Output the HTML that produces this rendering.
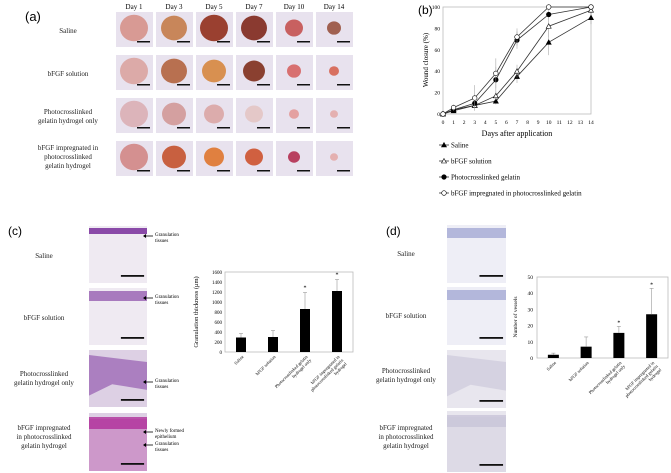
<!DOCTYPE html>
<html><head><meta charset="utf-8"><style>
body{margin:0;background:#fff;width:671px;height:473px;overflow:hidden}
svg{display:block;font-family:"Liberation Serif",serif}
</style></head><body>
<svg id="s" width="671" height="473" viewBox="0 0 671 473">
<g id="pa"></g>
<g id="pb"></g>
<g id="pc"></g>
<g id="pd"></g>
</svg>
<script>
// Panel b data
const days=[0,1,3,5,7,10,14];
const saline=[0,3,8,12,35,67,90];
const bfgfSol=[0,4,8,17,40,82,97];
const photoGel=[0,4,10,32,69,93,100];
const bfgfGel=[0,6,15,38,72,100,100];
const salineErr=[0,2,3,3,6,12,6];
const bfgfSolErr=[0,2,3,4,6,10,3];
const photoGelErr=[0,2,4,12,8,4,0];
const bfgfGelErr=[0,3,12,14,8,0,0];
const xTicksB=[0,1,2,3,4,5,6,7,8,9,10,11,12,13,14];
const yTicksB=[0,20,40,60,80,100];
// Panel c data
const catsC=["Saline","bFGF solution","Photocrosslinked gelatin hydrogel only","bFGF impregnated in photocrosslinked gelatin hydrogel"];
const valsC=[290,300,860,1220];
const errC=[80,130,330,230];
const yTicksC=[0,200,400,600,800,1000,1200,1400,1600];
// Panel d data
const valsD=[2,7,15.5,27];
const errD=[1,6,4,16];
const yTicksD=[0,10,20,30,40,50];

const NS="http://www.w3.org/2000/svg";
function el(p,t,a,txt){const e=document.createElementNS(NS,t);for(const k in a)e.setAttribute(k,a[k]);if(txt!=null)e.textContent=txt;p.appendChild(e);return e;}
function label(p,x,y,lines,size,anchor){lines.forEach((l,i)=>{const t=el(p,'text',{x:x,y:y+i*(size+2),'font-size':size,'text-anchor':anchor||'middle',fill:'#222'},l);});}

// Panel a
const pa=document.getElementById('pa');
let t=el(pa,'text',{x:25,y:21,'font-size':13,'font-family':'Liberation Sans, sans-serif'},'(a)');

const dayLabs=["Day 1","Day 3","Day 5","Day 7","Day 10","Day 14"];
const colX=[116,156,196,236,276,316];
const rowY=[12,55,98,141];
const rowLabs=[["Saline"],["bFGF solution"],["Photocrosslinked","gelatin hydrogel only"],["bFGF impregnated in","photocrosslinked","gelatin hydrogel"]];
const rowLy=[33,76,114,150];
rowLabs.forEach((l,i)=>label(pa,68,rowLy[i],l,7));
const woundCol=[["#d89a94","#c8865a","#9a4030","#8a3a30","#c86060","#a06050"],["#dcaaa8","#b87050","#d89050","#8a4030","#d87070","#d87060"],["#dcb4ba","#d4a0a0","#dcacac","#e4c8c8","#e4a0a0","#e4b0b0"],["#d49090","#c86040","#e08040","#d06040","#b84060","#e4b0b0"]];
const wSize=[[14,13,14,13,9,7],[14,13,12,11,7,5],[14,12,10,9,5,4],[14,12,10,9,6,4]];
dayLabs.forEach((d,j)=>{const tt=el(pa,'text',{x:colX[j]+18,y:9,'font-size':7,'text-anchor':'middle'},d);});
rowY.forEach((y,i)=>colX.forEach((x,j)=>{
 const g=el(pa,'g',{});
 el(g,'rect',{x:x,y:y,width:37,height:35,fill:'#e8e2ee'});
 el(g,'ellipse',{cx:x+18,cy:y+16,rx:wSize[i][j],ry:wSize[i][j]*0.95,fill:woundCol[i][j]});
 el(g,'rect',{x:x+21,y:y+29,width:13,height:1.5,fill:'#111'});
}));

// Panel b
const pb=document.getElementById('pb');
t=el(pb,'text',{x:418,y:14,'font-size':12,'font-family':'Liberation Sans, sans-serif'},'(b)');

const bx0=443,bx1=591,by0=114,by1=7;
const xb=v=>bx0+(bx1-bx0)*v/14, yb=v=>by0-(by0-by1)*v/100;
el(pb,'rect',{x:bx0,y:by1,width:bx1-bx0,height:by0-by1,fill:'none',stroke:'#bbb','stroke-width':0.8});
yTicksB.forEach(v=>{const tt=el(pb,'text',{x:bx0-3,y:yb(v)+2,'font-size':5.5,'text-anchor':'end'},v);});
xTicksB.forEach(v=>{const tt=el(pb,'text',{x:xb(v),y:124,'font-size':5.5,'text-anchor':'middle'},v);});
t=el(pb,'text',{x:517,y:136,'font-size':8,'text-anchor':'middle'},'Days after application');
t=el(pb,'text',{x:0,y:0,'font-size':7,'text-anchor':'middle',transform:'translate(428,60) rotate(-90)'},'Wound closure (%)');
const series=[[saline,salineErr,'tri','#000'],[bfgfSol,bfgfSolErr,'tri','#fff'],[photoGel,photoGelErr,'circ','#000'],[bfgfGel,bfgfGelErr,'circ','#fff']];
const names=['Saline','bFGF solution','Photocrosslinked gelatin','bFGF impregnated in photocrosslinked gelatin'];
function marker(g,x,y,type,fill){if(type==='tri')el(g,'path',{d:`M${x},${y-2.5}L${x+2.5},${y+2}L${x-2.5},${y+2}Z`,fill:fill,stroke:'#000','stroke-width':0.6});else el(g,'circle',{cx:x,cy:y,r:2.3,fill:fill,stroke:'#000','stroke-width':0.6});}
series.forEach((s,k)=>{
 const g=el(pb,'g',{});
 s[0].forEach((v,i)=>{if(s[1][i])el(g,'line',{x1:xb(days[i]),x2:xb(days[i]),y1:yb(v-s[1][i]),y2:yb(Math.min(100,v+s[1][i])),stroke:'#999','stroke-width':0.5});});
 el(g,'polyline',{points:s[0].map((v,i)=>xb(days[i])+','+yb(v)).join(' '),fill:'none',stroke:'#333','stroke-width':0.8});
 s[0].forEach((v,i)=>marker(g,xb(days[i]),yb(v),s[2],s[3]));
 const ly=145+k*16;
 const lg=el(pb,'g',{});
 el(lg,'line',{x1:439,x2:449,y1:ly,y2:ly,stroke:'#333','stroke-width':0.8});
 marker(lg,444,ly,s[2],s[3]);
 el(lg,'text',{x:451,y:ly+2.5,'font-size':7},names[k]);
});

// histology images
function histo(p,x,y,w,h,base,dark,k){
 const g=el(p,'g',{});
 el(g,'rect',{x:x,y:y,width:w,height:h,fill:base});
 if(k===0)el(g,'rect',{x:x,y:y+2,width:w,height:6,fill:dark});
 if(k===1)el(g,'rect',{x:x,y:y+3,width:w,height:10,fill:dark,opacity:0.7});
 if(k===2)el(g,'path',{d:`M${x},${y+5}L${x+w},${y+12}L${x+w},${y+h*0.7}L${x+w*0.4},${y+h*0.6}L${x},${y+h*0.8}Z`,fill:dark,opacity:0.6});
 if(k===3){el(g,'rect',{x:x,y:y+6,width:w,height:h-6,fill:dark,opacity:0.35});el(g,'rect',{x:x,y:y+4,width:w,height:12,fill:dark,opacity:0.8});}
 el(g,'rect',{x:x+w*0.55,y:y+h-8,width:w*0.4,height:1.8,fill:'#111'});
}
// Panel c
const pc=document.getElementById('pc');
t=el(pc,'text',{x:8,y:235,'font-size':12,'font-family':'Liberation Sans, sans-serif'},'(c)');
const cRows=[226,288,350,413];
const cLy=[[258],[320],[376,387],[430,441,452]];
const cL=[["Saline"],["bFGF solution"],["Photocrosslinked","gelatin hydrogel only"],["bFGF impregnated","in photocrosslinked","gelatin hydrogel"]];
cRows.forEach((y,k)=>{histo(pc,89,y,58,k===3?58:57,k<2?'#efeaf2':'#ddd0e4',k===3?'#b0309a':'#8a4aa8',k);label(pc,44,cLy[k][0],cL[k],7);});
const arrowsC=[[236,["Granulation","tissues"]],[298,["Granulation","tissues"]],[382,["Granulation","tissues"]],[432,["Newly formed","epithelium"]],[445,["Granulation","tissues"]]];
arrowsC.forEach(a=>{const g=el(pc,'g',{});
 el(g,'line',{x1:153,y1:a[0],x2:145,y2:a[0],stroke:'#000','stroke-width':0.8});el(g,'path',{d:`M143,${a[0]}l3,-2v4z`});
 a[1].forEach((s,i)=>el(g,'text',{x:155,y:a[0]+i*6,'font-size':5},s));});
const cx0=225,cx1=353,cy0=352,cy1=272;
const yc=v=>cy0-(cy0-cy1)*v/1600;
el(pc,'rect',{x:cx0,y:cy1,width:cx1-cx0,height:cy0-cy1,fill:'none',stroke:'#bbb','stroke-width':0.8});
yTicksC.forEach(v=>{const tt=el(pc,'text',{x:cx0-3,y:yc(v)+2,'font-size':5,'text-anchor':'end'},v);});
t=el(pc,'text',{x:0,y:0,'font-size':6.5,'text-anchor':'middle',transform:'translate(198,312) rotate(-90)'},'Granulation thickness (μm)');
const cSlot=(cx1-cx0)/4;
const cLabs=[["Saline"],["bFGF solution"],["Photocrosslinked gelatin","hydrogel only"],["bFGF impregnated in","photocrosslinked gelatin","hydrogel"]];
valsC.forEach((v,i)=>{const x=cx0+cSlot*(i+0.5);
 const b=el(pc,'rect',{x:x-5,y:yc(v),width:10,height:yc(0)-yc(v),fill:'#000'});
 el(pc,'line',{x1:x,x2:x,y1:yc(v),y2:yc(v+errC[i]),stroke:'#999','stroke-width':0.6});el(pc,'line',{x1:x-2,x2:x+2,y1:yc(v+errC[i]),y2:yc(v+errC[i]),stroke:'#999','stroke-width':0.6});
 if(i>=2)el(pc,'text',{x:x,y:yc(v+errC[i])-3,'font-size':6,'text-anchor':'middle'},'*');
 const g=el(pc,'g',{transform:`translate(${x+3},${cy0+5}) rotate(-45)`});
 cLabs[i].forEach((s,j)=>el(g,'text',{x:0,y:j*5,'font-size':4.5,'text-anchor':'end'},s));});

// Panel d
const pd=document.getElementById('pd');
t=el(pd,'text',{x:386,y:235,'font-size':12,'font-family':'Liberation Sans, sans-serif'},'(d)');
const dRows=[225,287,350,411];
const dLy=[[256],[318],[373,384],[430,441,452]];
const dL=[["Saline"],["bFGF solution"],["Photocrosslinked","gelatin hydrogel only"],["bFGF impregnated","in photocrosslinked","gelatin hydrogel"]];
dRows.forEach((y,k)=>{histo(pd,447,y,59,k===3?61:58,k<2?'#eeeef6':'#e8e6ee',k<2?'#9aa0d0':'#c8c4d8',k===3?3:(k===2?2:1));label(pd,406,dLy[k][0],dL[k],7);});
const dx0=537,dx1=668,dy0=358,dy1=277;
const yd=v=>dy0-(dy0-dy1)*v/50;
el(pd,'rect',{x:dx0,y:dy1,width:dx1-dx0,height:dy0-dy1,fill:'none',stroke:'#bbb','stroke-width':0.8});
yTicksD.forEach(v=>{const tt=el(pd,'text',{x:dx0-4,y:yd(v)+2,'font-size':5.5,'text-anchor':'end'},v);});
t=el(pd,'text',{x:0,y:0,'font-size':5.5,'text-anchor':'middle',transform:'translate(517,317) rotate(-90)'},'Number of vessels');
const dSlot=(dx1-dx0)/4;
valsD.forEach((v,i)=>{const x=dx0+dSlot*(i+0.5);
 const b=el(pd,'rect',{x:x-5.5,y:yd(v),width:11,height:yd(0)-yd(v),fill:'#000'});
 el(pd,'line',{x1:x,x2:x,y1:yd(v),y2:yd(v+errD[i]),stroke:'#999','stroke-width':0.6});el(pd,'line',{x1:x-2,x2:x+2,y1:yd(v+errD[i]),y2:yd(v+errD[i]),stroke:'#999','stroke-width':0.6});
 if(i>=2)el(pd,'text',{x:x,y:yd(v+errD[i])-2,'font-size':6,'text-anchor':'middle'},'*');
 const g=el(pd,'g',{transform:`translate(${x+3},${dy0+5}) rotate(-45)`});
 cLabs[i].forEach((s,j)=>el(g,'text',{x:0,y:j*5,'font-size':4.5,'text-anchor':'end'},s));});
</script>
</body></html>
